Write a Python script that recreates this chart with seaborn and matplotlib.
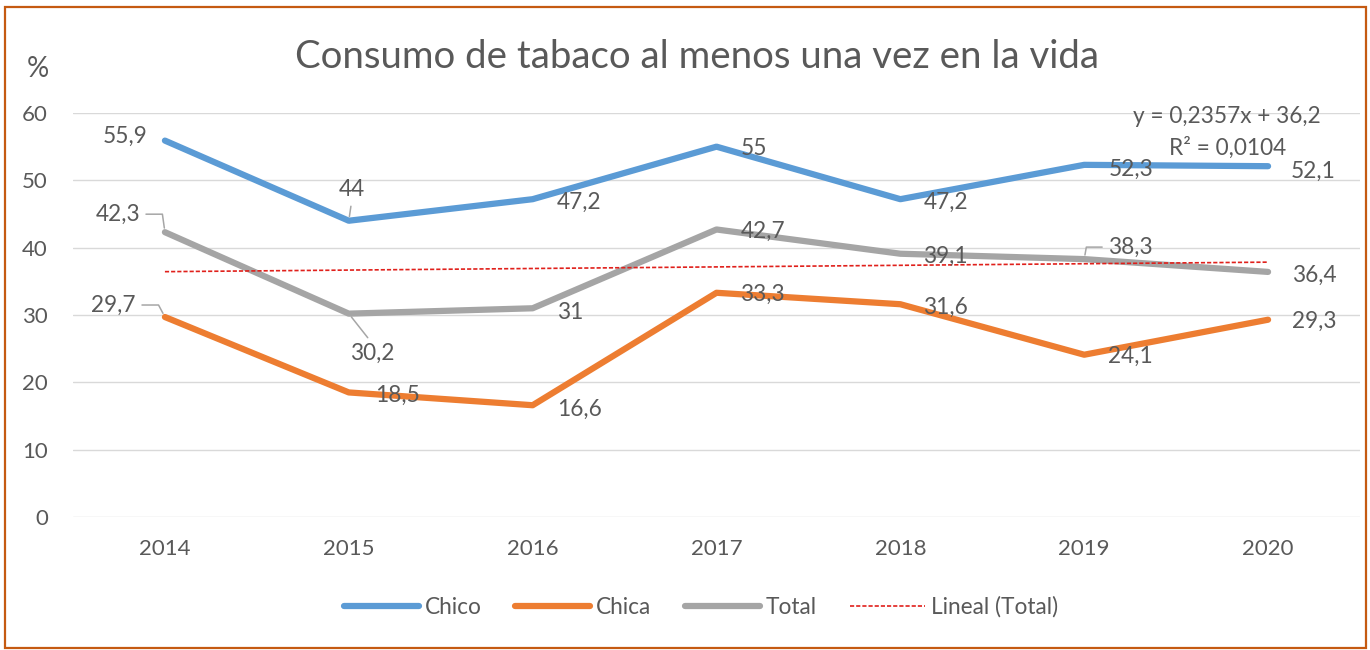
import numpy as np
import pandas as pd
import matplotlib.pyplot as plt
import seaborn as sns
from matplotlib.lines import Line2D
from matplotlib.patches import Rectangle

# Data
years = [2014, 2015, 2016, 2017, 2018, 2019, 2020]
chico = [55.9, 44, 47.2, 55, 47.2, 52.3, 52.1]
chica = [29.7, 18.5, 16.6, 33.3, 31.6, 24.1, 29.3]
total = [42.3, 30.2, 31, 42.7, 39.1, 38.3, 36.4]
series_names = ['Chico', 'Chica', 'Total']
yticks = [0, 10, 20, 30, 40, 50, 60]
title = 'Consumo de tabaco al menos una vez en la vida'

colors = {'Chico': '#5B9BD5', 'Chica': '#ED7D31', 'Total': '#A5A5A5'}
TXT = '#595959'

# label placement (ha, dx px, dy px, leader connection or None)
label_pos = {
    'Chico': [('right', -17, 6, None), ('center', 3, 33, 'straight'), ('left', 24, -1, None),
              ('left', 24, 0, None), ('left', 23, -1, None), ('left', 24, -2, None),
              ('left', 23, -3, None)],
    'Total': [('right', -25, 20, 'angle,angleA=0,angleB=98,rad=0'), ('left', 1, -38, 'straight'),
              ('left', 24, -2, None), ('left', 24, 0, None), ('left', 23, -1, None),
              ('left', 24, 14, 'angle,angleA=0,angleB=80,rad=0'), ('left', 24, -1, None)],
    'Chica': [('right', -29, 14, 'angle,angleA=0,angleB=118,rad=0'), ('left', 26, -1, None),
              ('left', 24, -2, None), ('left', 24, 0, None), ('left', 23, -1, None),
              ('left', 24, 0, None), ('left', 24, 0, None)],
}

df = pd.DataFrame({'year': years, 'Chico': chico, 'Chica': chica, 'Total': total})
df_long = df.melt(id_vars='year', value_vars=series_names, var_name='serie', value_name='value')

# linear trend of Total (as Excel does, x = 1..n)
xs = np.arange(1, len(years) + 1)
slope, intercept = np.polyfit(xs, total, 1)
fit = slope * xs + intercept
r2 = 1 - np.sum((np.array(total) - fit) ** 2) / np.sum((np.array(total) - np.mean(total)) ** 2)
df_trend = pd.DataFrame({'year': years, 'value': fit})

sns.set_style('white')
plt.rcParams['font.family'] = ['Lato', 'DejaVu Sans']

fig = plt.figure(figsize=(13.7, 6.5), dpi=100)
ax = fig.add_axes([73 / 1370, 1 - 517 / 650, (1360 - 73) / 1370, (517 - 113) / 650])

sns.lineplot(data=df_long, x='year', y='value', hue='serie', palette=colors,
             linewidth=4.5, ax=ax, legend=False, solid_capstyle='round', sort=False)
sns.lineplot(data=df_trend, x='year', y='value', color='#E0201B', linewidth=1.2,
             linestyle=(0, (2.5, 1.2)), ax=ax, legend=False)

ax.set_xlim(2013.5, 2020.5)
ax.set_ylim(0, 60)
ax.set_xticks(years)
ax.set_yticks(yticks)
ax.grid(axis='y', color='#D9D9D9', linewidth=1.0)
ax.set_axisbelow(True)
for s in ax.spines.values():
    s.set_visible(False)
ax.tick_params(axis='both', length=0, labelsize=16, labelcolor=TXT)
ax.tick_params(axis='y', pad=18)
ax.tick_params(axis='x', pad=16)
ax.set_xlabel('')
ax.set_ylabel('')

# data labels
for name, vals in zip(series_names, [chico, chica, total]):
    for yr, v, (ha, dx, dy, conn) in zip(years, vals, label_pos[name]):
        txt = f'{v:g}'.replace('.', ',')
        kw = {}
        if conn is not None:
            if ha == 'right':
                rel = (1, 0.5)
            elif ha == 'center':
                rel = (0.5, 0)
            elif dy < 0:
                rel = (0.5, 1)
            else:
                rel = (0, 0.5)
            kw['arrowprops'] = dict(arrowstyle='-', color='#A6A6A6', lw=1.1,
                                    shrinkA=2, shrinkB=3, relpos=rel,
                                    connectionstyle='arc3' if conn == 'straight' else conn)
        ax.annotate(txt, xy=(yr, v), xytext=(dx, dy), textcoords='offset pixels',
                    ha=ha, va='center_baseline', fontsize=16.3, color=TXT, zorder=5, **kw)

# trend equation
eq = f'y = {slope:.4f}x + {intercept:.1f}'.replace('.', ',')
r2_txt = f'R² = {r2:.4f}'.replace('.', ',')
fig.text(1227 / 1370, 1 - 123 / 650, eq, ha='center', va='baseline', fontsize=16.3, color=TXT)
fig.text(1228 / 1370, 1 - 155 / 650, r2_txt, ha='center', va='baseline', fontsize=16.3, color=TXT)

# title and unit
fig.text(697 / 1370, 1 - 68 / 650, title, ha='center', va='baseline', fontsize=27.6, color=TXT)
fig.text(27 / 1370, 1 - 77 / 650, '%', ha='left', va='baseline', fontsize=20, color=TXT)

# legend
handles = [Line2D([], [], color=colors[n], lw=4.5, solid_capstyle='round') for n in series_names]
handles.append(Line2D([], [], color='#E0201B', lw=1.2, linestyle=(0, (2.5, 1.2))))
labels = series_names + ['Lineal (Total)']
fig.legend(handles, labels, loc='center', bbox_to_anchor=(701 / 1370, 1 - 607 / 650), ncol=4,
           frameon=False, fontsize=16.3, labelcolor=TXT, handlelength=3.3, handletextpad=0.25,
           columnspacing=1.5)

# chart border
fig.patches.append(Rectangle((5 / 1370, 2 / 650), 1361 / 1370, 641 / 650, transform=fig.transFigure,
                             fill=False, edgecolor='#C55A11', linewidth=1.6))

fig.savefig('out.png', dpi=100)
